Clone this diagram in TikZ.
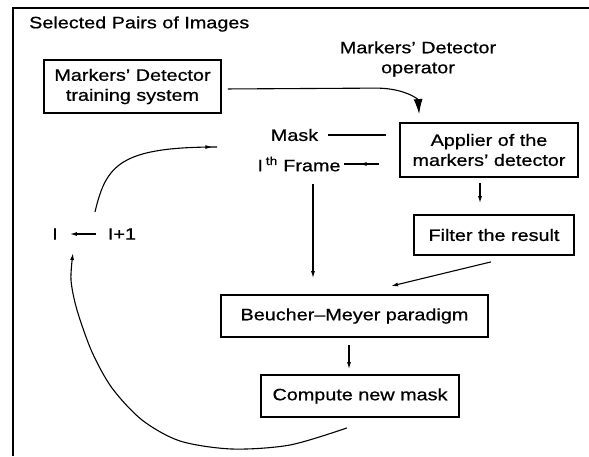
\documentclass[tikz,border=0pt]{standalone}
\usepackage{fontspec}
\setmainfont{Liberation Sans}[FakeStretch=1.2,FakeBold=0.7]
\usetikzlibrary{arrows.meta,calc,decorations.markings}
\begin{document}
\begin{tikzpicture}[x=1pt,y=-1pt,
  every node/.style={font=\fontsize{16.5}{20}\selectfont},
  box/.style={draw,line width=1.8pt,inner sep=0pt,align=center},
  lbl/.style={inner sep=0pt},
  conn/.style={line width=1.1pt},
  arr/.style={conn,-{Latex[length=7pt,width=4pt]}},
  bigarr/.style={conn,-{Latex[length=15pt,width=9pt]}},
  midarr/.style={conn,postaction={decorate},decoration={markings,mark=at position #1 with {\arrow{Latex[length=7pt,width=4pt]}}}}
]
\useasboundingbox (0,0) rectangle (589,456);
\draw[line width=1.2pt] (13,456) -- (13,8) -- (589,8);
% nodes
\node[lbl,anchor=west] (title) at (29,24) {Selected Pairs of Images};
\node[lbl,align=center] (op) at (418,59) {Markers’ Detector\\operator};
\node[box,minimum width=177pt,minimum height=53pt] (train) at (132.5,86.5) {Markers’ Detector\\training system};
\node[box,minimum width=178pt,minimum height=54pt] (applier) at (489,150) {Applier of the\\markers’ detector};
\node[lbl] (mask) at (294.5,135) {Mask};
\node[lbl] (frame) at (299,164) {I\,\textsuperscript{th} Frame};
\node[box,minimum width=160pt,minimum height=40pt] (filter) at (494,235) {Filter the result};
\node[box,minimum width=267pt,minimum height=42pt] (bm) at (354.5,316) {Beucher–Meyer paradigm};
\node[box,minimum width=198pt,minimum height=42pt] (cnm) at (360,396) {Compute new mask};
\node[lbl] (iota) at (55,234) {I};
\node[lbl] (ip1) at (122,234) {I+1};
% coordinates
\coordinate (opin) at ($(applier.north west)+(20,-8)$);
\coordinate (loopstart) at (95,212);
\coordinate (loopend) at (217,147);
\coordinate (vtop) at ($(frame.south)+(14,12)$);
\coordinate (a1) at ([xshift=-9pt]applier.south);
\coordinate (b1) at ([xshift=-5.5pt]bm.south);
\coordinate (cnmout) at ([shift={(-13,10)}]cnm.south);
\coordinate (loopin) at (73,253);
% connectors
\draw[bigarr,shorten <=6pt] ([yshift=-2.5pt]train.east) -- ($(opin)+(-43,-26)$) .. controls ($(opin)+(-15,-26)$) and ($(opin)+(-1,-15)$) .. (opin);
\draw[conn,shorten <=10pt,shorten >=13pt] (mask.east) -- (mask.east -| applier.west);
\draw[midarr=0.55] ($(frame.east -| applier.west)+(-20,0)$) -- ($(frame.east)+(3,0)$);
\draw[midarr=0.97] (loopstart) .. controls (106,165) and (120,147) .. (loopend);
\draw[arr] ($(ip1.west)+(-12,0)$) -- ($(iota.east)+(12,0)$);
\draw[arr,shorten >=16pt] (vtop) -- (vtop |- bm.north);
\draw[arr,shorten <=5pt,shorten >=11pt] (a1) -- (a1 |- filter.north);
\draw[arr] ([shift={(-3,6)}]filter.south) -- ([shift={(36.5,-8)}]bm.north);
\draw[arr,shorten <=7pt,shorten >=5pt] (b1) -- (b1 |- cnm.north);
\draw[arr] plot[smooth] coordinates {(cnmout) (290,445) (232,449) (180,441) (142,420) (112,388) (92,352) (77,310) (71,280) (loopin)};
\end{tikzpicture}
\end{document}
